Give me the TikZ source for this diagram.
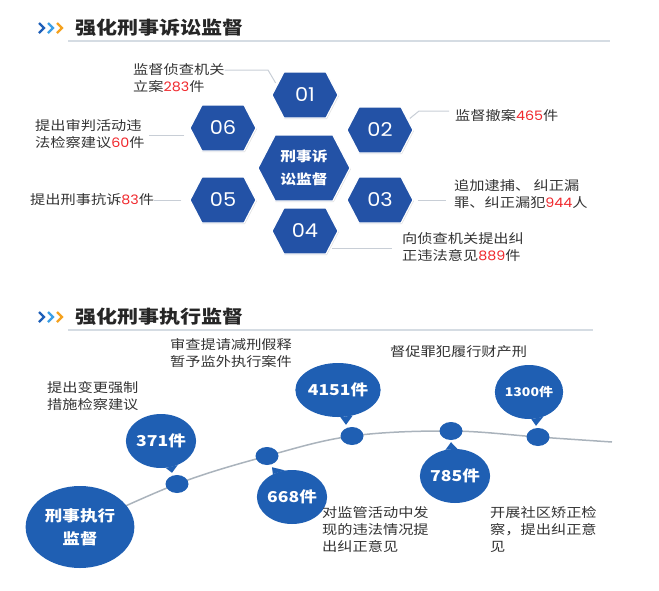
\documentclass[tikz,border=0pt]{standalone}
\usepackage{fontspec}
\newfontfamily\cjk[FakeStretch=1.17]{Noto Sans CJK SC}
\newfontfamily\numfont[FakeStretch=1.1]{Poppins}
\usetikzlibrary{shapes.symbols,shapes.geometric,shadows,backgrounds}
\definecolor{hexblue}{HTML}{2352A6}
\definecolor{bubblue}{HTML}{1F5FB3}
\definecolor{leadgray}{HTML}{C8CED6}
\definecolor{arcgray}{HTML}{AAB3BC}
\definecolor{rulegray}{HTML}{D5DCE3}
\definecolor{numred}{HTML}{F0282D}
\definecolor{txtgray}{HTML}{333333}
\definecolor{chevblue}{HTML}{1E5FB8}
\definecolor{chevsky}{HTML}{3C9FE6}
\definecolor{chevorange}{HTML}{F5A21E}
\newcommand{\rednum}[1]{{\numfont\color{numred}#1}}
\begin{document}
\begin{tikzpicture}[x=1pt,y=-1pt,
	hexa/.style={signal, signal to=east and west, signal pointer angle=125, fill=hexblue, draw=white, line width=1.2pt, inner sep=0pt, minimum width=66pt, minimum height=46pt, text=white, font=\numfont\fontsize{19}{19}\selectfont, drop shadow={opacity=0.25, shadow xshift=0.8pt, shadow yshift=-1.2pt}},
	note/.style={anchor=west, align=left, inner sep=0pt, text=txtgray, font=\cjk\fontsize{13}{17}\selectfont},
	lead/.style={draw=leadgray, line width=1pt},
	station/.style={ellipse, fill=bubblue, minimum width=23pt, minimum height=18pt, inner sep=0pt},
	bubble/.style={ellipse, fill=bubblue, minimum width=66pt, minimum height=54pt, inner sep=0pt, text=white, font=\cjk\bfseries\fontsize{15}{15}\selectfont},
	sectitle/.style={anchor=west, inner sep=0pt, text=black!85, font=\cjk\bfseries\fontsize{18}{18}\selectfont}]
	\useasboundingbox (0,0) rectangle (659,590);

	% section headings
	\foreach \y in {28,317} {
		\foreach \c [count=\i] in {chevblue,chevsky,chevorange}
			\draw[\c, line width=2.3pt] (30+9*\i,\y-5) -- ++(5,5) -- ++(-5,5);
	}
	\node[sectitle] (title1) at (75,28) {强化刑事诉讼监督};
	\draw[rulegray, line width=1.2pt] (68,41) -- (610,41);
	\node[sectitle] (title2) at (75,317) {强化刑事执行监督};
	\draw[rulegray, line width=1.2pt] (68,330) -- (593,330);

	% honeycomb
	\node[hexa] (h01) at (305,95) {01};
	\node[hexa] (h02) at (380,130) {02};
	\node[hexa] (h03) at (380,200) {03};
	\node[hexa] (h04) at (305,231) {04};
	\node[hexa] (h05) at (223,200) {05};
	\node[hexa] (h06) at (223,128) {06};
	\node[hexa, minimum width=92pt, minimum height=66pt, align=center, font=\cjk\bfseries\fontsize{13.5}{23}\selectfont] (hub) at (304,168) {刑事诉\\讼监督};

	\node[note] (t01) at (133,78) {监督侦查机关\\立案\rednum{283}件};
	\node[note] (t02) at (455,116) {监督撤案\rednum{465}件};
	\node[note] (t03) at (454,194) {追加逮捕、 纠正漏\\罪、纠正漏犯\rednum{944}人};
	\node[note] (t04) at (402,247) {向侦查机关提出纠\\正违法意见\rednum{889}件};
	\node[note] (t05) at (30,200) {提出刑事抗诉\rednum{83}件};
	\node[note] (t06) at (35,134) {提出审判活动违\\法检察建议\rednum{60}件};

	\coordinate (k01) at (268,70);
	\coordinate (k02) at (419,111);
	\draw[lead, shorten >=2pt] (t01.north east |- k01) -- (k01) -- (h01.160);
	\draw[lead, shorten <=2pt, shorten >=6pt] (h02.20) -- (k02) -- (t02.west |- k02);
	\draw[lead, shorten <=4pt, shorten >=8pt] (h03.east) -- (t03.west |- h03.east);
	\draw[lead, shorten <=2pt, shorten >=10pt] (h04.-35) -- (t04.west |- h04.-35);
	\draw[lead, shorten <=8pt] (h05.west) -- (t05.east |- h05.west);
	\draw[lead, shorten <=9pt, shorten >=4pt] (h06.-165) -- (t06.east |- h06.-165);

	% timeline
	\node[station] (s1) at (177,484) {};
	\node[station] (s2) at (267,456) {};
	\node[station] (s3) at (352,436) {};
	\node[station] (s4) at (451,431) {};
	\node[station] (s5) at (538,437) {};
	\coordinate (arcend) at (612,442);
	\node[ellipse, fill=bubblue, minimum width=104pt, minimum height=82pt, align=center, text=white, font=\cjk\bfseries\fontsize{15}{23}\selectfont] (hub2) at (80,527) {刑事执行\\监督};
	\begin{scope}[on background layer]
		\draw[arcgray, line width=1.5pt] plot[smooth, tension=0.6] coordinates {(hub2) (s1) (s2) (s3) (s4) (s5) (arcend)};
	\end{scope}

	\node[bubble] (b371) at (161,441) {371件};
	\fill[bubblue] (b371.-80) -- ([xshift=-5pt,yshift=2pt]s1.north) -- (b371.-55) -- cycle;
	\node[bubble] (b668) at (292,497) {668件};
	\fill[bubblue] (b668.105) -- ([xshift=5pt,yshift=-2pt]s2.south) -- (b668.130) -- cycle;
	\node[bubble] (b4151) at (338,390) {4151件};
	\fill[bubblue] (b4151.-85) -- ([xshift=-6pt,yshift=2pt]s3.north) -- (b4151.-60) -- cycle;
	\node[bubble] (b785) at (455,476) {785件};
	\fill[bubblue] (b785.85) -- ([yshift=-2pt]s4.south) -- (b785.110) -- cycle;
	\node[bubble, font=\cjk\bfseries\fontsize{12}{12}\selectfont] (b1300) at (529,392) {1300件};
	\fill[bubblue] (b1300.-85) -- ([xshift=-2pt,yshift=2pt]s5.north) -- (b1300.-60) -- cycle;

	\node[note] (t371) at (47,396) {提出变更强制\\措施检察建议};
	\node[note] (t4151) at (170,353) {审查提请减刑假释\\暂予监外执行案件};
	\node[note] (t1300) at (390,352) {督促罪犯履行财产刑};
	\node[note] (t668) at (322,530) {对监管活动中发\\现的违法情况提\\出纠正意见};
	\node[note] (t785) at (490,530) {开展社区矫正检\\察，提出纠正意\\见};
\end{tikzpicture}
\end{document}
